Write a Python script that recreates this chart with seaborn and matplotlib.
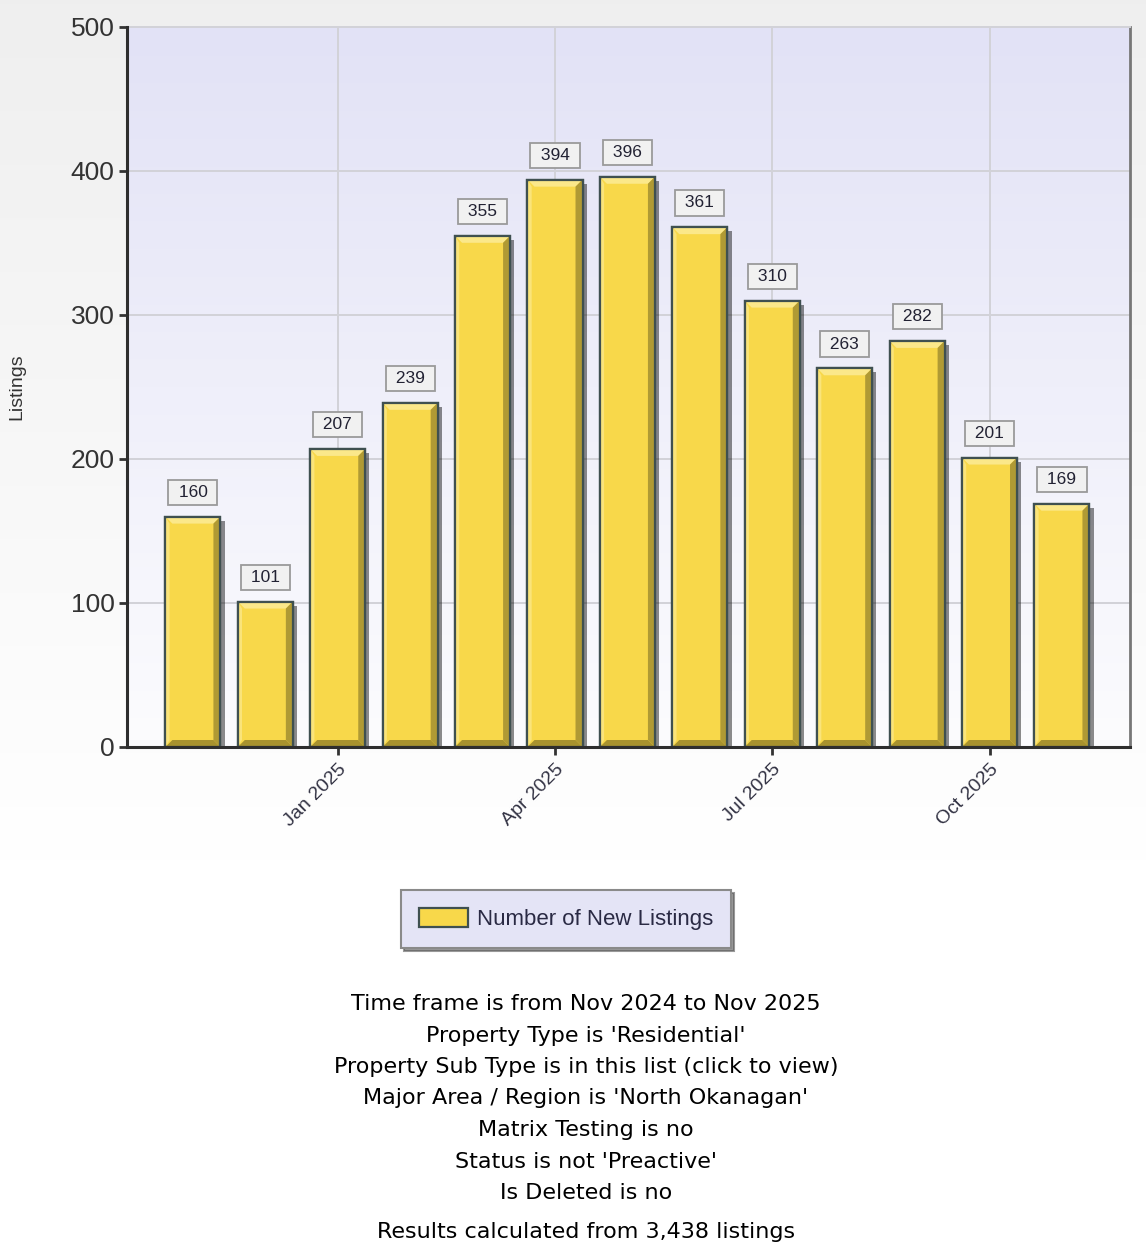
import numpy as np
import pandas as pd
import seaborn as sns
import matplotlib.pyplot as plt
import matplotlib.patheffects as pe
from matplotlib.patches import Patch, Polygon

# Monthly new listings, Nov 2024 - Nov 2025
months = ['Nov 2024', 'Dec 2024', 'Jan 2025', 'Feb 2025', 'Mar 2025', 'Apr 2025',
          'May 2025', 'Jun 2025', 'Jul 2025', 'Aug 2025', 'Sep 2025', 'Oct 2025',
          'Nov 2025']
listings = [160, 101, 207, 239, 355, 394, 396, 361, 310, 263, 282, 201, 169]
tick_months = ['Jan 2025', 'Apr 2025', 'Jul 2025', 'Oct 2025']
y_ticks = [0, 100, 200, 300, 400, 500]
series_name = 'Number of New Listings'

footer_lines = [
    "Time frame is from Nov 2024 to Nov 2025",
    "Property Type is 'Residential'",
    "Property Sub Type is in this list (click to view)",
    "Major Area / Region is 'North Okanagan'",
    "Matrix Testing is no",
    "Status is not 'Preactive'",
    "Is Deleted is no",
]
results_line = "Results calculated from 3,438 listings"

df = pd.DataFrame({'Month': months, 'Listings': listings})

sns.set_theme(style='white')
plt.rcParams['font.family'] = ['Liberation Sans', 'DejaVu Sans']

W, H = 1146, 1256
fig = plt.figure(figsize=(W / 100, H / 100), dpi=100)
fig.patch.set_facecolor('white')

# page background: light grey fading to white
bg = fig.add_axes([0, 0, 1, 1], zorder=-10)
rows = np.arange(H)
t = np.clip(rows / 860.0, 0, 1)
shade = 0.937 + (1 - 0.937) * t
bg_img = np.repeat(shade[:, None, None], 3, axis=2)
bg.imshow(bg_img, aspect='auto', extent=(0, 1, 0, 1), origin='upper')
bg.set_axis_off()

bar_color = '#f8d84a'
edge_color = '#3f5050'

ax = fig.add_axes([127 / W, 1 - 747 / H, (1130 - 127) / W, (747 - 27) / H])
ax.set_facecolor('none')

# plot area gradient: lavender at top, near white at bottom
top_c = np.array([226, 226, 246]) / 255
bot_c = np.array([252, 252, 254]) / 255
g = np.linspace(0, 1, 256)[:, None]
grad = top_c[None, :] * (1 - g) + bot_c[None, :] * g
ax.imshow(grad[:, None, :], aspect='auto', extent=(0, 1, 0, 1),
          transform=ax.transAxes, origin='upper', zorder=0)

sns.barplot(data=df, x='Month', y='Listings', order=months, color=bar_color,
            saturation=1, width=0.76, edgecolor=edge_color, linewidth=1.6,
            ax=ax, zorder=3)

xmin, xmax = -0.91, 12.94
ax.set_xlim(xmin, xmax)
ax.set_ylim(0, 500)

# grid
tick_pos = [months.index(m) for m in tick_months]
for yv in y_ticks[1:]:
    ax.axhline(yv, color='#d2d2d8', lw=1.4, zorder=1)
for xp in tick_pos:
    ax.axvline(xp, color='#d2d2d8', lw=1.4, zorder=1)

# bevel + shadow on bars, value boxes above
px_x = (xmax - xmin) / (1130 - 127)
px_y = 500 / 720
bx, by = 7 * px_x, 7 * px_y
for bar, v in zip(list(ax.patches), listings):
    x0 = bar.get_x()
    w = bar.get_width()
    h = bar.get_height()
    x1 = x0 + w
    bar.set_path_effects([pe.SimplePatchShadow(offset=(3, -3), shadow_rgbFace='black', alpha=0.45),
                          pe.Normal()])
    ax.add_patch(Polygon([(x0, h), (x1, h), (x1 - bx, h - by), (x0 + bx, h - by)],
                         closed=True, fc='#fbe88a', ec='none', zorder=3.5))
    ax.add_patch(Polygon([(x0, 0), (x0, h), (x0 + bx * 0.6, h - by), (x0 + bx * 0.6, by)],
                         closed=True, fc='#fae47a', ec='none', zorder=3.5))
    ax.add_patch(Polygon([(x1, 0), (x1, h), (x1 - bx, h - by), (x1 - bx, by)],
                         closed=True, fc='#b09a34', ec='none', zorder=3.5))
    ax.add_patch(Polygon([(x0, 0), (x1, 0), (x1 - bx, by), (x0 + bx, by)],
                         closed=True, fc='#a8922e', ec='none', zorder=3.5))
    ax.add_patch(Polygon([(x0, 0), (x0, h), (x1, h), (x1, 0)], closed=True,
                         fc='none', ec=edge_color, lw=1.6, zorder=3.6))
    ax.annotate(f' {v} ', xy=(x0 + w / 2, h), xytext=(0, 12), textcoords='offset points',
                ha='center', va='bottom', fontsize=12.5, color='#222233', zorder=5,
                bbox=dict(boxstyle='square,pad=0.3', fc='#f1f1f1', ec='#9a9a9a', lw=1.3))

ax.set_yticks(y_ticks)
ax.set_yticklabels([str(v) for v in y_ticks], fontsize=19, color='#333333')
ax.set_xticks(tick_pos)
ax.set_xticklabels(tick_months, rotation=45, ha='right', rotation_mode='anchor',
                   fontsize=14, color='#333344')
ax.tick_params(axis='both', which='both', direction='out', length=6, width=2,
               color='#333333', left=True, bottom=True)
ax.tick_params(axis='y', pad=3)
ax.tick_params(axis='x', pad=4)

ax.set_xlabel('')
ax.set_ylabel('Listings', fontsize=14, color='#333333')
ax.yaxis.set_label_coords((25 - 127) / (1130 - 127), 0.5)

for side in ['left', 'bottom']:
    ax.spines[side].set_color('#2e2e2e')
    ax.spines[side].set_linewidth(2.2)
    ax.spines[side].set_zorder(6)
ax.spines['right'].set_color('#777777')
ax.spines['right'].set_linewidth(2)
ax.spines['top'].set_color('#d2d2d8')
ax.spines['top'].set_linewidth(1.4)

# legend
leg = fig.legend(handles=[Patch(fc=bar_color, ec=edge_color, lw=1.6)],
                 labels=[series_name], loc='center',
                 bbox_to_anchor=(566 / W, 1 - 919 / H), frameon=True,
                 fancybox=False, shadow={'color': '#555555', 'alpha': 0.6},
                 fontsize=16, handlelength=2.2, handleheight=0.9,
                 borderpad=0.8, handletextpad=0.4, borderaxespad=0)
leg.get_frame().set_facecolor('#e4e4f6')
leg.get_frame().set_edgecolor('#8a8a8a')
leg.get_frame().set_linewidth(1.5)
for txt in leg.get_texts():
    txt.set_color('#2a2a44')

# footer lines
y_px = 1004
for line in footer_lines:
    fig.text(586 / W, 1 - y_px / H, line, ha='center', va='center',
             fontsize=16, family='DejaVu Sans', color='black')
    y_px += 31.5
fig.text(586 / W, 1 - 1232 / H, results_line, ha='center', va='center',
         fontsize=16, family='DejaVu Sans', color='black')

fig.savefig('out.png', dpi=100)
plt.close(fig)
